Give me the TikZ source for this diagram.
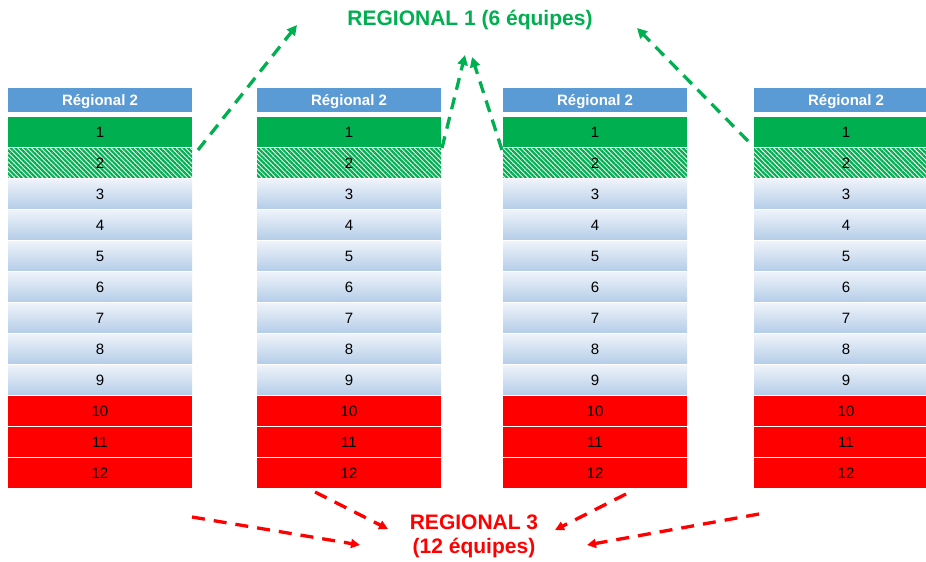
\documentclass[tikz,border=0pt]{standalone}
\usepackage{fontspec}
\setmainfont{Liberation Sans}
\usetikzlibrary{patterns.meta,arrows.meta,calc}
\definecolor{hdr}{HTML}{5B9BD5}
\definecolor{grn}{HTML}{00B050}
\definecolor{rd}{HTML}{FF0000}
\definecolor{lbtop}{HTML}{EEF3FA}
\definecolor{lbbot}{HTML}{B5CDE8}
\begin{document}
\begin{tikzpicture}[x=1pt,y=-1pt,
  cell/.style={minimum width=184pt,minimum height=29.5pt,inner sep=0pt,text height=10.8pt,text depth=0pt,font=\fontsize{15}{17}\selectfont},
  hdrbox/.style={cell,fill=hdr,minimum height=24pt,text=white,font=\bfseries\fontsize{15}{17}\selectfont},
  topcell/.style={cell,fill=grn},
  hatchcell/.style={cell,fill=white,postaction={pattern={Lines[angle=-45,distance=3.3pt,line width=2.2pt]},pattern color=grn}},
  midcell/.style={cell,top color=lbtop,bottom color=lbbot},
  redcell/.style={cell,fill=rd},
  garrow/.style={draw=grn,line width=3.3pt,dash pattern=on 12pt off 8pt,-{Triangle[length=10pt,width=10pt]}},
  rarrow/.style={draw=rd,line width=3.3pt,dash pattern=on 13pt off 9pt,-{Triangle[length=9pt,width=9pt]}},
  ttl/.style={font=\bfseries\fontsize{21}{25}\selectfont,inner sep=0pt,align=center}
]
\fill[white] (0,0) rectangle (926,562);
\useasboundingbox (0,0) rectangle (926,562);

\foreach \c/\x in {1/100,2/349,3/595,4/846}{
  \node[hdrbox] (c\c h) at (\x,100) {Régional 2};
  \node[topcell] (c\c r1) at (\x,132) {1};
  \node[hatchcell] (c\c r2) at (\x,163) {2};
  \foreach \r in {3,...,9}{
    \node[midcell] (c\c r\r) at (\x,{132+(\r-1)*31}) {\r};
  }
  \foreach \r in {10,11,12}{
    \node[redcell] (c\c r\r) at (\x,{132+(\r-1)*31}) {\r};
  }
}

\node[ttl,text=grn] (reg1) at (470,20) {REGIONAL 1 (6 équipes)};
\node[ttl,text=rd] (reg3) at (474,536.5) {REGIONAL 3\\[-1pt](12 équipes)};

% green arrows
\coordinate (g1s) at (198,150);
\coordinate (g1e) at (297,25);
\coordinate (g2s) at (442,148);
\coordinate (g2e) at (465,55);
\coordinate (g3s) at (502,150);
\coordinate (g3e) at (472,57);
\coordinate (g4s) at (748,141);
\coordinate (g4e) at (637,28);
\draw[garrow] (g1s) -- (g1e);
\draw[garrow] (g2s) -- (g2e);
\draw[garrow] (g3s) -- (g3e);
\draw[garrow] (g4s) -- (g4e);

% red arrows
\coordinate (r1s) at (192,517);
\coordinate (r1e) at (360,545);
\coordinate (r2s) at (315,492);
\coordinate (r2e) at (388,529);
\coordinate (r3s) at (626,494);
\coordinate (r3e) at (555,530);
\coordinate (r4s) at (759,514);
\coordinate (r4e) at (587,545);
\draw[rarrow] (r1s) -- (r1e);
\draw[rarrow] (r2s) -- (r2e);
\draw[rarrow] (r3s) -- (r3e);
\draw[rarrow] (r4s) -- (r4e);
\end{tikzpicture}
\end{document}
